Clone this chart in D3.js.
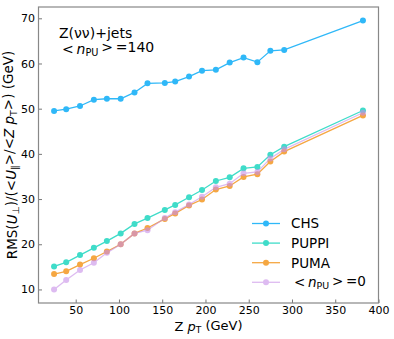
<!DOCTYPE html>
<html>
<head>
<meta charset="utf-8">
<script src="https://cdn.jsdelivr.net/npm/d3@7"></script>
<style>
  html, body { margin: 0; padding: 0; background: #fff; }
  svg { display: block; font-family: "DejaVu Sans", sans-serif; }
</style>
</head>
<body>
<svg id="chart" width="394" height="339"></svg>
<script>
// data
const ptBins = [25, 39, 55, 71, 86, 102, 118, 133, 153, 165, 181, 196, 212, 228, 244, 260, 275, 291, 382];
const chs    = [49.5, 49.9, 50.6, 52.0, 52.2, 52.2, 53.6, 55.6, 55.7, 56.0, 57.1, 58.4, 58.6, 60.2, 61.3, 60.3, 62.8, 63.0, 69.5];
const puppi  = [15.1, 16.0, 17.6, 19.2, 20.7, 22.4, 24.5, 25.8, 27.6, 28.7, 30.4, 32.0, 34.0, 34.8, 36.8, 37.1, 39.8, 41.6, 49.6];
const puma   = [13.4, 14.0, 15.5, 16.9, 18.4, 20.0, 22.4, 23.6, 25.6, 26.8, 28.6, 29.9, 32.1, 32.9, 34.9, 35.5, 38.3, 40.5, 48.5];
const noPU   = [10.0, 12.1, 14.3, 15.9, 18.1, 20.0, 22.4, 23.1, 25.8, 27.1, 28.8, 30.5, 32.6, 33.4, 35.7, 36.0, 39.0, 41.0, 49.1];
const xTicks = [50, 100, 150, 200, 250, 300, 350, 400];
const yTicks = [10, 20, 30, 40, 50, 60, 70];

const series = [
    {name: "CHS", values: chs, color: "#2fb8f8", opacity: 1},
    {name: "PUPPI", values: puppi, color: "#3fdcc9", opacity: 1},
    {name: "PUMA", values: puma, color: "#f5a742", opacity: 1},
    {name: "nopu", values: noPU, color: "#c88ee8", opacity: 0.6}
];

const width = 394, height = 339;
const margin = {top: 7, right: 15.5, bottom: 36, left: 38.5};

const svg = d3.select("#chart");

const x = d3.scaleLinear().domain([7, 400]).range([margin.left, width - margin.right]);
const y = d3.scaleLinear().domain([7, 72.5]).range([height - margin.bottom, margin.top]);

// axes, ticks pointing inward
const xAxis = svg.append("g")
    .attr("transform", `translate(0,${height - margin.bottom})`)
    .call(d3.axisBottom(x).tickValues(xTicks).tickSizeInner(-3.5).tickSizeOuter(0).tickPadding(3.5));
const yAxis = svg.append("g")
    .attr("transform", `translate(${margin.left},0)`)
    .call(d3.axisLeft(y).tickValues(yTicks).tickSizeInner(-3.5).tickSizeOuter(0).tickPadding(3.5));

[xAxis, yAxis].forEach(ax => {
    ax.select(".domain").remove();
    ax.selectAll(".tick line").attr("stroke", "#777").attr("stroke-width", 1);
    ax.selectAll(".tick text")
        .attr("fill", "#000")
        .style("font-family", "DejaVu Sans")
        .style("font-size", "11px");
});

// frame
svg.append("rect")
    .attr("x", margin.left)
    .attr("y", margin.top)
    .attr("width", width - margin.left - margin.right)
    .attr("height", height - margin.top - margin.bottom)
    .attr("fill", "none")
    .attr("stroke", "#888")
    .attr("stroke-width", 1.2);

// lines + markers
const line = d3.line().x((d, i) => x(ptBins[i])).y(d => y(d));
series.forEach(s => {
    const g = svg.append("g").attr("opacity", s.opacity);
    g.append("path")
        .datum(s.values)
        .attr("d", line)
        .attr("fill", "none")
        .attr("stroke", s.color)
        .attr("stroke-width", 1.3);
    g.selectAll("circle")
        .data(s.values)
        .join("circle")
        .attr("cx", (d, i) => x(ptBins[i]))
        .attr("cy", d => y(d))
        .attr("r", 3)
        .attr("fill", s.color);
});

// helper for "< n_PU > =..." text
function nPU(textSel, tail) {
    textSel.append("tspan").text("<\u2009");
    textSel.append("tspan").attr("font-style", "italic").text("n");
    textSel.append("tspan").attr("font-size", "0.7em").attr("dy", "0.25em").text("PU");
    textSel.append("tspan").attr("dy", "-0.25em").text("\u2009>\u2009" + tail);
}

// annotation
svg.append("text")
    .attr("x", 59).attr("y", 37.5)
    .style("font-size", "14px")
    .text("Z(\u03bd\u03bd)+jets");
const ann2 = svg.append("text")
    .attr("x", 62).attr("y", 53.5)
    .style("font-size", "14px");
nPU(ann2, "=140");

// legend
const legend = svg.append("g");
series.forEach((s, i) => {
    const ly = 223.5 + i * 19.6;
    const row = legend.append("g");
    const sw = row.append("g").attr("opacity", s.opacity);
    sw.append("line")
        .attr("x1", 252).attr("x2", 280)
        .attr("y1", ly).attr("y2", ly)
        .attr("stroke", s.color).attr("stroke-width", 1.3);
    sw.append("circle")
        .attr("cx", 266).attr("cy", ly).attr("r", 3)
        .attr("fill", s.color);
    const t = row.append("text")
        .attr("x", 291).attr("y", ly + 4.8)
        .style("font-size", "13.5px");
    if (s.name === "nopu") {
        t.attr("x", 294);
        nPU(t, "=0");
    } else {
        t.text(s.name);
    }
});

// x label
const xl = svg.append("text")
    .attr("x", (margin.left + width - margin.right) / 2)
    .attr("y", 331)
    .attr("text-anchor", "middle")
    .style("font-size", "13px");
xl.append("tspan").text("Z ");
xl.append("tspan").attr("font-style", "italic").text("p");
xl.append("tspan").attr("font-size", "0.7em").attr("dy", "0.25em").text("T");
xl.append("tspan").attr("dy", "-0.25em").text(" (GeV)");

// y label
const yl = svg.append("text")
    .attr("transform", `translate(16.5,${(margin.top + height - margin.bottom) / 2}) rotate(-90)`)
    .attr("text-anchor", "middle")
    .style("font-size", "13.5px");
yl.append("tspan").text("RMS(");
yl.append("tspan").attr("font-style", "italic").text("U");
yl.append("tspan").attr("font-size", "0.7em").attr("dy", "0.25em").text("\u22a5");
yl.append("tspan").attr("dy", "-0.25em").text(")/(<");
yl.append("tspan").attr("font-style", "italic").text("U");
yl.append("tspan").attr("font-size", "0.7em").attr("dy", "0.25em").text("\u2225");
yl.append("tspan").attr("dy", "-0.25em").text(">/<");
yl.append("tspan").attr("font-style", "italic").text("Z p");
yl.append("tspan").attr("font-size", "0.7em").attr("dy", "0.25em").text("T");
yl.append("tspan").attr("dy", "-0.25em").text(">) (GeV)");
</script>
</body>
</html>
